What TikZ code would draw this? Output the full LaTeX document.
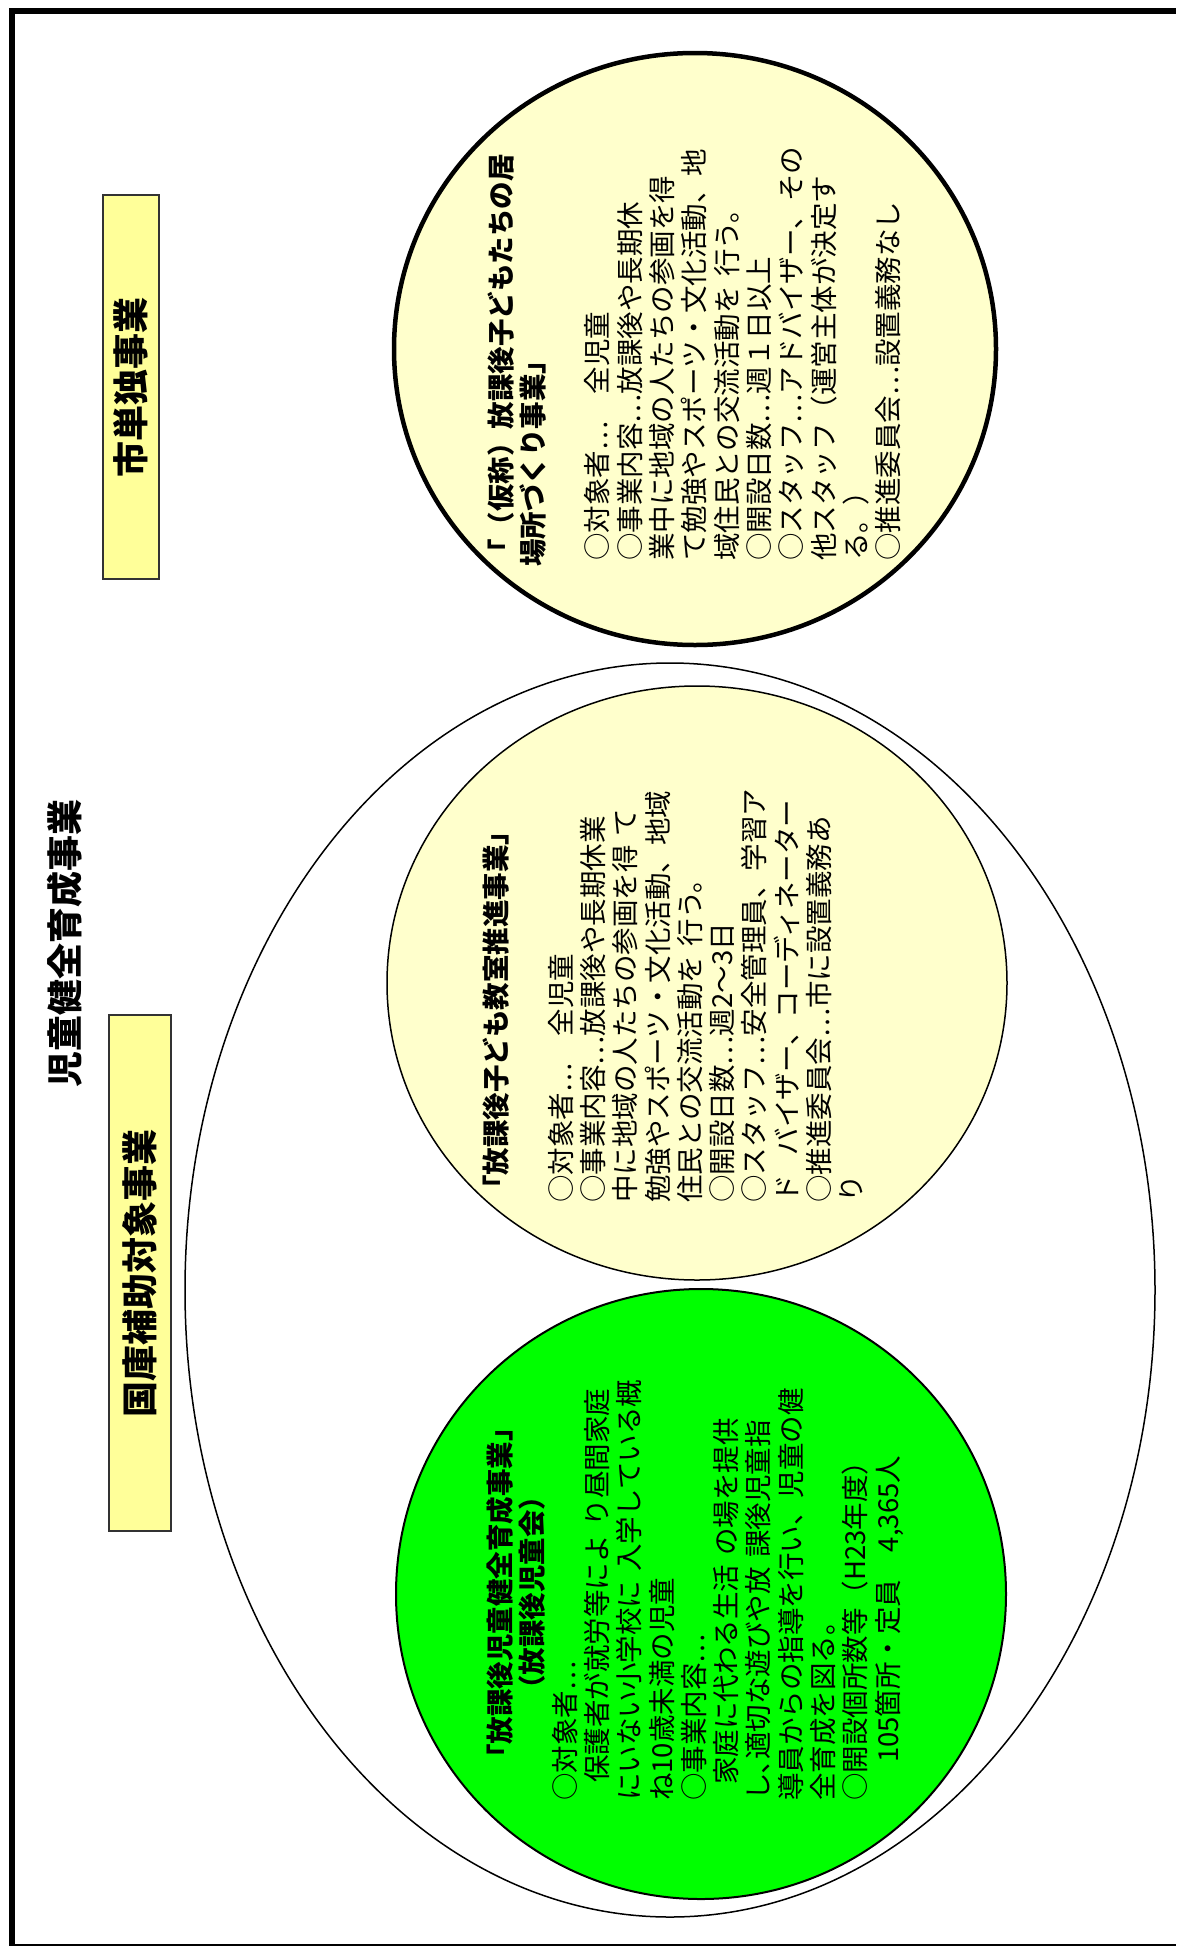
\documentclass[tikz,border=0pt]{standalone}
\usepackage{fontspec}
\setmainfont{Noto Sans CJK JP}
\usetikzlibrary{shapes.geometric}
\definecolor{boxyellow}{HTML}{FFFF99}
\definecolor{paleyellow}{HTML}{FFFFCC}
\definecolor{brightgreen}{HTML}{00FF00}
\definecolor{planlime}{HTML}{CCFF33}
\tikzset{
  labelbox/.style={draw=black!80, line width=1.5pt, rotate=90, inner sep=0pt,
    font=\bfseries\fontsize{36pt}{40pt}\selectfont},
  bodytext/.style={rotate=90, anchor=base west, inner sep=0pt, align=left,
    text width=520pt, font=\fontsize{27.5pt}{32.3pt}\selectfont},
  bubble/.style={ellipse, draw=black, inner sep=0pt}
}
\begin{document}
\begin{tikzpicture}[x=1pt,y=-1pt]
\useasboundingbox (0,0) rectangle (1176,1946);
% frame
\coordinate (fbl) at (12,1946);
\coordinate (ftl) at (12,11);
\coordinate (ftr) at (1176,11);
\coordinate (bl) at (12,1945);
\coordinate (br) at (1176,1945);
\draw[line width=6pt] (fbl) -- (ftl) -- (ftr);
\draw[line width=1.5pt] (bl) -- (br);

% title
\node[rotate=90, inner sep=0pt, font=\bfseries\fontsize{36pt}{40pt}\selectfont] (title) at (65,943) {児童健全育成事業};

% label boxes
\node[labelbox, fill=boxyellow, minimum width=384pt, minimum height=56pt] (city) at (131,387) {市単独事業};
\node[labelbox, fill=boxyellow, minimum width=516pt, minimum height=62pt] (nation) at (140,1273) {国庫補助対象事業};
\node[labelbox, fill=planlime, minimum width=396pt, minimum height=51pt, font=\bfseries\fontsize{34pt}{38pt}\selectfont] (plan) at (300.5,1262) {放課後子どもプラン};

% big ellipse
\node[bubble, fill=white, line width=1.5pt, minimum width=970pt, minimum height=1254pt] (big) at (670,1290) {};

% circles
\node[bubble, fill=brightgreen, line width=2pt, minimum width=610pt, minimum height=610pt] (c1) at (701,1594) {};
\node[bubble, fill=paleyellow, line width=1.5pt, minimum width=620pt, minimum height=594pt] (c2) at (697,983) {};
\node[bubble, fill=paleyellow, line width=4.5pt, minimum width=602pt, minimum height=592pt] (c3) at (695,349) {};

% text circle 1
\node[bodytext] (t1) at (510.5,1801) {%
\makebox[416pt][c]{\bfseries 「放課後児童健全育成事業」}\\
\makebox[416pt][c]{\bfseries （放課後児童会）}\\
○対象者…\\
\hspace*{18pt}保護者が就労等によ り昼間家庭\\
にいない小学校に 入学している概\\
ね10歳未満の児童\\
○事業内容…\\
\hspace*{16pt}家庭に代わる生活 の場を提供\\
し､適切な遊びや放 課後児童指\\
導員からの指導を行い、児童の健\\
全育成を図る。\\
○開設個所数等（H23年度）\\
\hspace*{38pt}105箇所・定員　4,365人};

% text circle 2
\node[bodytext] (t2) at (506.5,1203) {%
{\bfseries 「放課後子ども教室推進事業」}\\[32.3pt]
○対象者…　全児童\\
○事業内容…放課後や長期休業\\
中に地域の人たちの参画を得 て\\
勉強やスポーツ・文化活動、地域\\
住民との交流活動を 行う。\\
○開設日数…週2～3日\\
○スタッフ…安全管理員、学習ア\\
ド\hspace{20pt}バイザー、コーディネーター\\
○推進委員会…市に設置義務あ\\
り};

% text circle 3
\node[bodytext] (t3) at (511,561) {%
\hspace*{-6pt}{\bfseries 「（仮称）放課後子どもたちの居}\\
\hspace*{-6pt}{\bfseries 場所づくり事業」}\\[32.3pt]
○対象者…　全児童\\
○事業内容…放課後や長期休\\
業中に地域の人たちの参画を得\\
て勉強やスポーツ・文化活動、地\\
域住民との交流活動を 行う。\\
○開設日数…週１日以上\\
○スタッフ…アドバイザー、その\\
他スタッフ（運営主体が決定す\\
る。）\\
○推進委員会…設置義務なし};
\end{tikzpicture}
\end{document}
